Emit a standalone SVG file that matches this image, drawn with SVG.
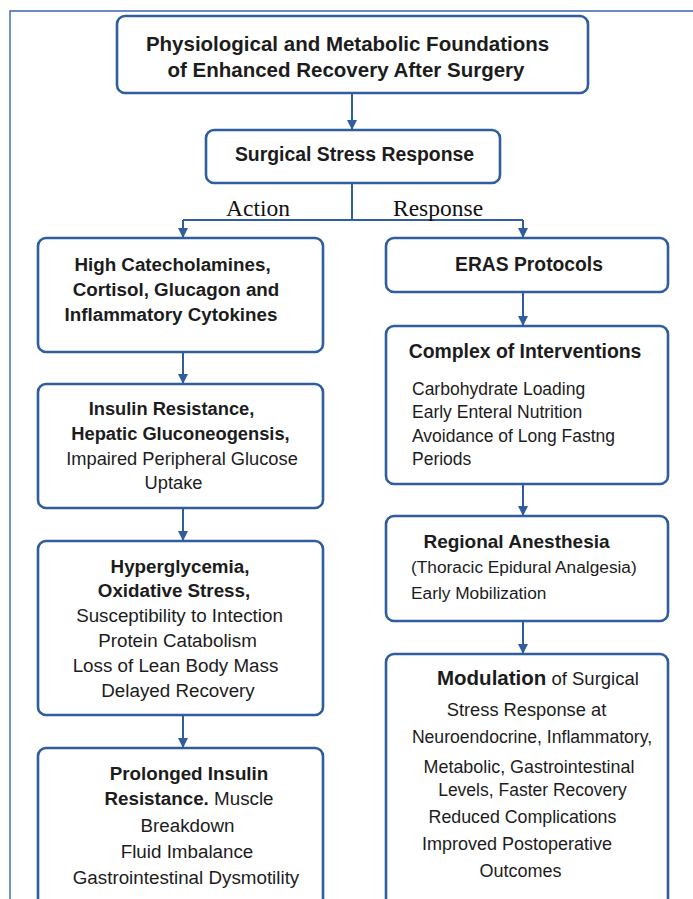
<svg xmlns="http://www.w3.org/2000/svg" width="693" height="899" viewBox="0 0 693 899">
<style>
.box{fill:#ffffff;stroke:#2f5d9e;stroke-width:2.6}
.con{fill:none;stroke:#2f5d9e;stroke-width:2}
.frame{fill:none;stroke:#3a66ad;stroke-width:1.4}
text{font-family:"Liberation Sans",Arial,sans-serif;fill:#1c1c1c}
.c{text-anchor:middle}
.b{font-weight:bold}
.serif{font-family:"Liberation Serif","Times New Roman",serif;font-size:23.5px;fill:#111}
</style>
<defs>
<marker id="ah" markerUnits="userSpaceOnUse" markerWidth="10" markerHeight="10" refX="9" refY="5" orient="auto">
<path d="M0,0 L10,5 L0,10 z" fill="#2f5d9e"/>
</marker>
</defs>
<rect width="693" height="899" fill="#ffffff"/>
<path class="frame" d="M10,899 V11 H693"/>

<g id="connectors">
<line class="con" x1="352" y1="93" x2="352" y2="129" marker-end="url(#ah)"/>
<path class="con" d="M352,183 V220"/>
<path class="con" d="M183,220 H523"/>
<line class="con" x1="183" y1="220" x2="183" y2="237" marker-end="url(#ah)"/>
<line class="con" x1="523" y1="220" x2="523" y2="237" marker-end="url(#ah)"/>
<line class="con" x1="183" y1="352" x2="183" y2="383" marker-end="url(#ah)"/>
<line class="con" x1="183" y1="508" x2="183" y2="540" marker-end="url(#ah)"/>
<line class="con" x1="183" y1="715" x2="183" y2="747" marker-end="url(#ah)"/>
<line class="con" x1="523" y1="292" x2="523" y2="325" marker-end="url(#ah)"/>
<line class="con" x1="523" y1="484" x2="523" y2="515" marker-end="url(#ah)"/>
<line class="con" x1="523" y1="621" x2="523" y2="653" marker-end="url(#ah)"/>
<text class="serif" x="226" y="216">Action</text>
<text class="serif" x="393" y="216">Response</text>
</g>

<g id="title">
<rect class="box" x="117" y="16" width="471" height="77" rx="8"/>
<text class="c b" x="347.5" y="51" font-size="20.5">Physiological and Metabolic Foundations</text>
<text class="c b" x="346" y="77" font-size="20.5">of Enhanced Recovery After Surgery</text>
</g>

<g id="stress">
<rect class="box" x="206" y="130" width="294" height="53" rx="8"/>
<text class="c b" x="354.5" y="161" font-size="19.4">Surgical Stress Response</text>
</g>

<g id="hormones">
<rect class="box" x="38" y="238" width="285" height="114" rx="8"/>
<text class="c b" x="172.5" y="271" font-size="18.8">High Catecholamines,</text>
<text class="c b" x="176" y="296" font-size="18.8">Cortisol, Glucagon and</text>
<text class="c b" x="171" y="321" font-size="18.8">Inflammatory Cytokines</text>
</g>

<g id="insulin">
<rect class="box" x="38" y="384" width="285" height="124" rx="8"/>
<text class="c b" x="171.5" y="415" font-size="18.3">Insulin Resistance,</text>
<text class="c b" x="180.5" y="440" font-size="18.3">Hepatic Gluconeogensis,</text>
<text class="c" x="182" y="465" font-size="18.3">Impaired Peripheral Glucose</text>
<text class="c" x="173.5" y="489" font-size="18.3">Uptake</text>
</g>

<g id="hyperglycemia">
<rect class="box" x="38" y="541" width="285" height="174" rx="8"/>
<text class="c b" x="180" y="573" font-size="18.8">Hyperglycemia,</text>
<text class="c b" x="174" y="597" font-size="18.8">Oxidative Stress,</text>
<text class="c" x="179.5" y="622" font-size="18.8">Susceptibility to Intection</text>
<text class="c" x="177.5" y="647" font-size="18.8">Protein Catabolism</text>
<text class="c" x="175.5" y="672" font-size="18.8">Loss of Lean Body Mass</text>
<text class="c" x="178" y="697" font-size="18.8">Delayed Recovery</text>
</g>

<g id="prolonged">
<rect class="box" x="38" y="748" width="285" height="170" rx="8"/>
<text class="c b" x="189" y="780" font-size="18.8">Prolonged Insulin</text>
<text class="c" x="189" y="805" font-size="18.8"><tspan class="b">Resistance.</tspan> Muscle</text>
<text class="c" x="187.5" y="832" font-size="18.8">Breakdown</text>
<text class="c" x="187" y="858" font-size="18.8">Fluid Imbalance</text>
<text class="c" x="186" y="884" font-size="18.8">Gastrointestinal Dysmotility</text>
</g>

<g id="eras">
<rect class="box" x="386" y="238" width="282" height="54" rx="8"/>
<text class="c b" x="529" y="271" font-size="19.3">ERAS Protocols</text>
</g>

<g id="complex">
<rect class="box" x="386" y="326" width="282" height="158" rx="8"/>
<text class="c b" x="525" y="358" font-size="19.4">Complex of Interventions</text>
<text x="412" y="395" font-size="17.5">Carbohydrate Loading</text>
<text x="412" y="418" font-size="17.5">Early Enteral Nutrition</text>
<text x="412" y="442" font-size="17.5">Avoidance of Long Fastng</text>
<text x="412" y="465" font-size="17.5">Periods</text>
</g>

<g id="regional">
<rect class="box" x="386" y="516" width="282" height="105" rx="8"/>
<text class="c b" x="516.5" y="548" font-size="19">Regional Anesthesia</text>
<text x="411" y="573" font-size="17.3">(Thoracic Epidural Analgesia)</text>
<text x="411" y="599" font-size="17.3">Early Mobilization</text>
</g>

<g id="modulation">
<rect class="box" x="386" y="654" width="282" height="264" rx="8"/>
<text x="437" y="685" font-size="18.5"><tspan class="b" font-size="20.5">Modulation</tspan> of Surgical</text>
<text class="c" x="526.5" y="716" font-size="18.3">Stress Response at</text>
<text class="c" x="532" y="743" font-size="17.6">Neuroendocrine, Inflammatory,</text>
<text class="c" x="529" y="773" font-size="17.9">Metabolic, Gastrointestinal</text>
<text class="c" x="532.5" y="796" font-size="17.5">Levels, Faster Recovery</text>
<text class="c" x="522.5" y="823" font-size="17.8">Reduced Complications</text>
<text class="c" x="517" y="850" font-size="18">Improved Postoperative</text>
<text class="c" x="520.5" y="877" font-size="18">Outcomes</text>
</g>
</svg>
